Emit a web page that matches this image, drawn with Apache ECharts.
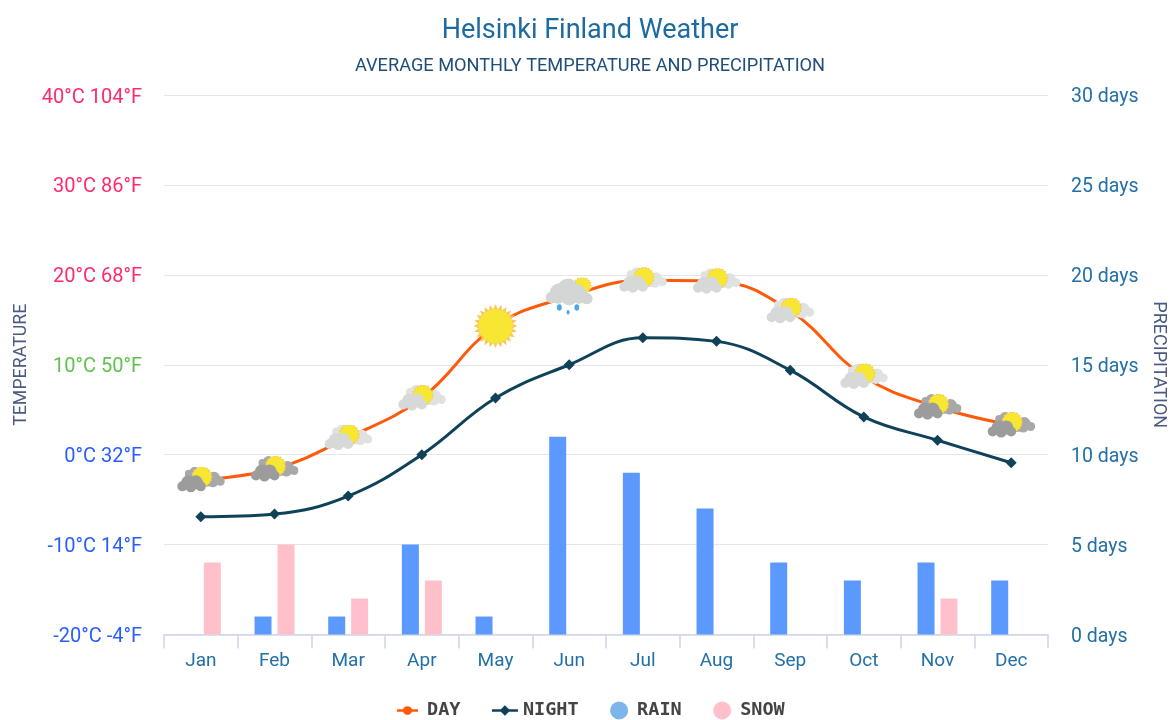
<!DOCTYPE html>
<html>
<head>
<meta charset="utf-8">
<title>Helsinki Finland Weather</title>
<style>
  html, body { margin: 0; padding: 0; background: #fff; }
  #chart { width: 1170px; height: 720px; }
</style>
</head>
<body>
<div id="chart"></div>
<script src="https://cdn.jsdelivr.net/npm/echarts@6/dist/echarts.min.js"></script>
<script>
const months = ['Jan', 'Feb', 'Mar', 'Apr', 'May', 'Jun', 'Jul', 'Aug', 'Sep', 'Oct', 'Nov', 'Dec'];
const dayTemp = [-2.8, -1.6, 1.9, 6.3, 14.3, 17.6, 19.4, 19.3, 16, 8.7, 5.3, 3.3];
const nightTemp = [-6.9, -6.6, -4.6, 0, 6.3, 10, 13, 12.6, 9.4, 4.2, 1.6, -0.9];
const rainDays = [0, 1, 1, 5, 1, 11, 9, 7, 4, 3, 4, 3];
const snowDays = [4, 5, 2, 3, 0, 0, 0, 0, 0, 0, 2, 0];
const weatherIcons = ['dark', 'dark', 'light', 'light', 'sun', 'rain', 'light', 'light', 'light', 'light', 'dark', 'dark'];
const tempTicks = ['-20°C -4°F', '-10°C 14°F', '0°C 32°F', '10°C 50°F', '20°C 68°F', '30°C 86°F', '40°C 104°F'];
const tempTickColors = ['#2a5cff', '#2a5cff', '#2a5cff', '#5fc24f', '#ff2a6d', '#ff2a6d', '#ff2a6d'];

const FONT = 'Roboto';

function svgUri(body, w, h) {
    let svg = '<svg xmlns="http://www.w3.org/2000/svg" width="' + w * 3 + '" height="' + h * 3 + '" viewBox="0 0 ' + w + ' ' + h + '">' + body + '</svg>';
    return 'image://data:image/svg+xml;charset=utf-8,' + encodeURIComponent(svg);
}

function blobs(list, fill) {
    let s = '<g fill="' + fill + '">';
    list.forEach(c => { s += '<circle cx="' + c[0] + '" cy="' + c[1] + '" r="' + c[2] + '"/>'; });
    return s + '</g>';
}

function sunShape(cx, cy, r, spikes, rayLen) {
    let pts = [];
    for (let i = 0; i < spikes * 2; i++) {
        let a = Math.PI * i / spikes;
        let rr = i % 2 === 0 ? r + rayLen : r;
        pts.push((cx + rr * Math.cos(a)).toFixed(2) + ',' + (cy + rr * Math.sin(a)).toFixed(2));
    }
    return '<polygon points="' + pts.join(' ') + '" fill="#f8c85a"/>' +
        '<circle cx="' + cx + '" cy="' + cy + '" r="' + r + '" fill="#f7e733"/>';
}

// sun behind a pair of clouds, the two cloud tones are the only difference
function partlyCloudy(back, front) {
    let body = blobs([[30, 13, 7], [37, 11.5, 6.5], [43.5, 14.5, 4.5], [36, 15, 5.5]], back) +
        blobs([[12, 7, 4], [18, 5.5, 5.5], [25, 6, 5.5]], back) +
        sunShape(25, 10, 9.5, 18, 1.4) +
        blobs([[5.5, 19.5, 5], [11.5, 15.5, 7], [19, 15.5, 7], [24, 19.5, 5], [14, 20, 5.5]], front);
    return svgUri(body, 48, 26);
}

const iconImages = {
    dark: partlyCloudy('#a8a8a8', '#9c9c9c'),
    light: partlyCloudy('#dfe2e0', '#d6d9d7'),
    sun: svgUri(sunShape(23, 23, 17, 24, 5), 46, 46),
    rain: svgUri(
        sunShape(34, 8, 7.5, 18, 1.5) +
        blobs([[6, 19, 5.5], [13, 14, 8.5], [21, 10.5, 9.5], [30, 15, 8], [38, 20, 5.5], [22, 19, 7.5], [12, 20, 5], [31, 20, 5]], '#d3d6d5') +
        '<g fill="#4aa8e8"><ellipse cx="13" cy="28.5" rx="2.2" ry="3"/><ellipse cx="29" cy="28.5" rx="2.2" ry="3"/><ellipse cx="21" cy="33" rx="1.4" ry="2.2"/></g>',
        44, 36)
};
const iconSizes = { dark: [48, 26], light: [48, 26], sun: [46, 46], rain: [48, 38] };

const dayData = dayTemp.map((v, i) => ({
    value: v,
    symbol: iconImages[weatherIcons[i]],
    symbolSize: iconSizes[weatherIcons[i]]
}));

// legend keys: a short line with the marker on it, zero-length corners keep the box at 26x18
const dayKey = 'path://M0 0L0 0M26 18L26 18M1 7.8H7A4.8 4.8 0 0 1 16 7.8H22V10.2H16A4.8 4.8 0 0 1 7 10.2H1Z';
const nightKey = 'path://M0 0L0 0M26 18L26 18M0 7.8H9L13 3.8L17 7.8H26V10.2H17L13 14.2L9 10.2H0Z';

let chart_dom = echarts.init(document.getElementById('chart'), null, { renderer: 'canvas' });
let option = {
    animation: false,
    backgroundColor: '#fff',
    textStyle: { fontFamily: FONT },
    title: [
        {
            text: 'Helsinki Finland Weather',
            left: 585, top: 13, textAlign: 'center',
            textStyle: { color: '#1c6aa0', fontSize: 27, fontWeight: 'normal', fontFamily: FONT }
        },
        {
            text: 'AVERAGE MONTHLY TEMPERATURE AND PRECIPITATION',
            left: 585, top: 52, textAlign: 'center',
            textStyle: { color: '#1f4e79', fontSize: 18.2, fontWeight: 'normal', fontFamily: FONT }
        }
    ],
    legend: {
        top: 696,
        left: 391,
        itemGap: 31.5,
        itemWidth: 26,
        itemHeight: 18,
        textStyle: { color: '#444', fontSize: 18.5, fontWeight: 'bold', fontFamily: 'DejaVu Sans Mono' },
        data: [
            { name: 'DAY', icon: dayKey, itemStyle: { color: '#ff5a0a' } },
            { name: 'NIGHT', icon: nightKey, itemStyle: { color: '#0f4258' } },
            { name: 'RAIN', icon: 'circle', itemStyle: { color: '#7cb5ec' } },
            { name: 'SNOW', icon: 'circle', itemStyle: { color: '#ffc0cb' } }
        ]
    },
    grid: { left: 164, right: 122, top: 95, height: 539.5, containLabel: false, outerBoundsMode: 'none' },
    xAxis: {
        type: 'category',
        data: months,
        boundaryGap: true,
        axisLine: { onZero: false, lineStyle: { color: '#ccd6eb', width: 1.5 } },
        axisTick: { show: true, length: 14, alignWithLabel: false, lineStyle: { color: '#ccd6eb', width: 1.5 } },
        axisLabel: { color: '#2370a8', fontSize: 19, margin: 17, fontFamily: FONT },
        splitLine: { show: false }
    },
    yAxis: [
        {
            type: 'value',
            min: -20, max: 40, interval: 10,
            name: 'TEMPERATURE',
            nameLocation: 'middle',
            nameGap: 132,
            nameTextStyle: { color: '#4a5a80', fontSize: 17.8, fontFamily: FONT },
            axisLine: { show: false },
            axisTick: { show: false },
            axisLabel: {
                margin: 22, fontSize: 20, fontFamily: FONT, verticalAlign: 'top', lineHeight: 5,
                formatter: v => tempTicks[(Number(v) + 20) / 10],
                color: v => tempTickColors[(Number(v) + 20) / 10]
            },
            splitLine: { lineStyle: { color: '#e6e6e6', width: 1 } }
        },
        {
            type: 'value',
            min: 0, max: 30, interval: 5,
            name: 'PRECIPITATION',
            nameLocation: 'middle',
            nameGap: 101,
            nameRotate: -90,
            nameTextStyle: { color: '#4a5a80', fontSize: 18, fontFamily: FONT },
            axisLine: { show: false },
            axisTick: { show: false },
            axisLabel: { margin: 23, fontSize: 19.5, color: '#2370a8', fontFamily: FONT, verticalAlign: 'top', lineHeight: 5, formatter: '{value} days' },
            splitLine: { show: false }
        }
    ],
    series: [
        {
            name: 'RAIN', type: 'bar', yAxisIndex: 1,
            data: rainDays, barWidth: 17, barGap: '35%',
            itemStyle: { color: '#5b99ff' }, z: 1
        },
        {
            name: 'SNOW', type: 'bar', yAxisIndex: 1,
            data: snowDays, barWidth: 17,
            itemStyle: { color: '#ffc0cb' }, z: 1
        },
        {
            name: 'DAY', type: 'line', yAxisIndex: 0,
            data: dayData, smooth: 0.4,
            lineStyle: { color: '#ff5a0a', width: 3 },
            itemStyle: { color: '#ff5a0a' }, z: 3
        },
        {
            name: 'NIGHT', type: 'line', yAxisIndex: 0,
            data: nightTemp, smooth: 0.4,
            symbol: 'diamond', symbolSize: 11,
            lineStyle: { color: '#0f4258', width: 3 },
            itemStyle: { color: '#0f4258' }, z: 2
        }
    ]
};
chart_dom.setOption(option);
</script>
</body>
</html>
